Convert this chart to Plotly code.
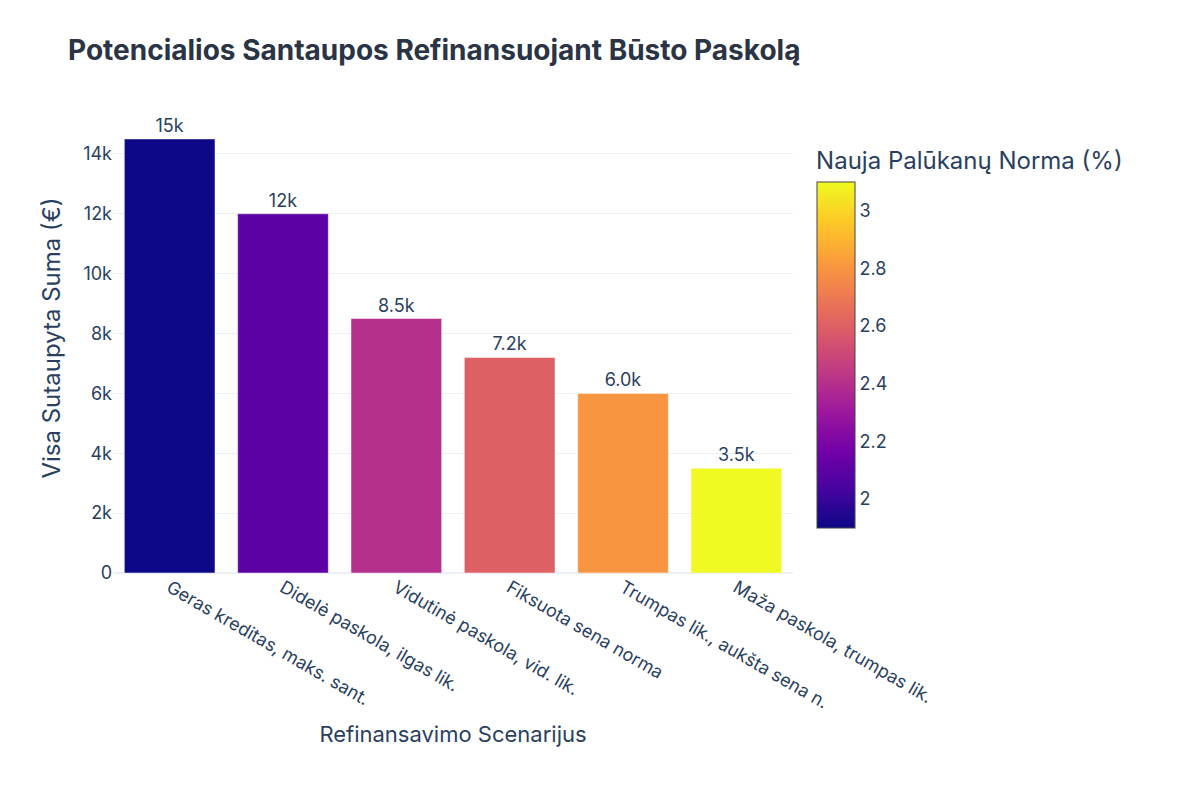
import plotly.graph_objects as go

scenarios = ["Geras kreditas, maks. sant.", "Didelė paskola, ilgas lik.", "Vidutinė paskola, vid. lik.",
             "Fiksuota sena norma", "Trumpas lik., aukšta sena n.", "Maža paskola, trumpas lik."]
savings = [14500, 12000, 8500, 7200, 6000, 3500]
new_rate = [1.9, 2.1, 2.4, 2.6, 2.8, 3.1]

fig = go.Figure(go.Bar(
    x=scenarios, y=savings, text=savings, texttemplate="%{text:.2s}", textposition="outside",
    textfont=dict(size=18),
    marker=dict(color=new_rate, colorscale="Plasma", cmin=1.9, cmax=3.1,
                colorbar=dict(title=dict(text="Nauja Palūkanų Norma (%)", font=dict(size=24)),
                              tickfont=dict(size=18), x=1.02, xanchor="left", y=0.5, len=0.85,
                              thickness=38, tickvals=[2, 2.2, 2.4, 2.6, 2.8, 3],
                              ticktext=["2", "2.2", "2.4", "2.6", "2.8", "3"])),
))
fig.update_layout(
    template="plotly_white", width=1200, height=800,
    font=dict(family="Inter, Open Sans, sans-serif", color="#2a3f5f"),
    title=dict(text="<b>Potencialios Santaupos Refinansuojant Būsto Paskolą</b>", x=0.05, y=0.96,
               font=dict(size=28, color="#2a3444")),
    margin=dict(l=105, r=415, t=95, b=235),
    xaxis=dict(title=dict(text="Refinansavimo Scenarijus", font=dict(size=22)), tickangle=30,
               tickfont=dict(size=18)),
    yaxis=dict(title=dict(text="Visa Sutaupyta Suma (€)", font=dict(size=24)), range=[0, 15700],
               tickfont=dict(size=18), dtick=2000),
    bargap=0.2,
)
fig.write_html("out.html")
